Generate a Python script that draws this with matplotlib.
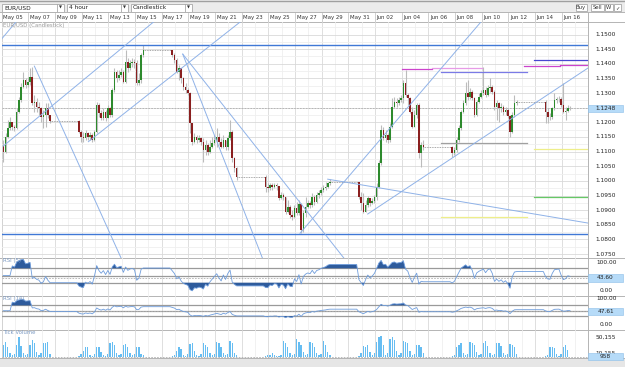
import numpy as np
import pandas as pd
import matplotlib
matplotlib.use('Agg')
import matplotlib.pyplot as plt
import matplotlib.transforms as mtransforms
from matplotlib.patches import Rectangle

plt.rcParams['font.family'] = ['DejaVu Sans']

# ---------------- data: EUR/USD 4 hour bars (New York time) ----------------
first_open = 1.1120
close = [
    # week of May 04
    1.1100, 1.1151, 1.1180, 1.1202, 1.1183, 1.1180, 1.1237, 1.1276, 1.1322, 1.1345, 1.1328,
    1.1339, 1.1356, 1.1265, 1.1271, 1.1254, 1.1248, 1.1219, 1.1225, 1.1248, 1.1225, 1.1205,
    # week of May 11
    1.1168, 1.1151, 1.1145, 1.1162, 1.1151, 1.1157, 1.1140, 1.1168, 1.1259, 1.1231,
    1.1214, 1.1237, 1.1214, 1.1248, 1.1225, 1.1310, 1.1373, 1.1350, 1.1362, 1.1373,
    1.1339, 1.1407, 1.1385, 1.1402, 1.1407, 1.1402, 1.1333, 1.1345, 1.1430, 1.1447,
    # week of May 18
    1.1430, 1.1413, 1.1373, 1.1385, 1.1350, 1.1322, 1.1310, 1.1299, 1.1197, 1.1134,
    1.1151, 1.1140, 1.1145, 1.1134, 1.1106, 1.1123, 1.1100, 1.1117, 1.1128, 1.1140,
    1.1151, 1.1134, 1.1117, 1.1140, 1.1117, 1.1145, 1.1168, 1.1077, 1.1043, 1.1015,
    # week of May 25
    1.0980, 1.0975, 1.0986, 1.0980, 1.0986, 1.0983, 1.0941, 1.0952, 1.0946, 1.0895,
    1.0912, 1.0884, 1.0878, 1.0906, 1.0889, 1.0921, 1.0832, 1.0889, 1.0912, 1.0923,
    1.0918, 1.0946, 1.0929, 1.0952, 1.0958, 1.0969, 1.0975, 1.0980, 1.0992, 1.0997,
    # week of Jun 01
    1.0946, 1.0923, 1.0895, 1.0918, 1.0941, 1.0923, 1.0933, 1.0946, 1.0980, 1.1060,
    1.1174, 1.1145, 1.1157, 1.1140, 1.1185, 1.1254, 1.1271, 1.1265, 1.1276, 1.1282,
    1.1333, 1.1293, 1.1282, 1.1237, 1.1185, 1.1225, 1.1259, 1.1094, 1.1123, 1.1115,
    # week of Jun 08
    1.1094, 1.1106, 1.1140, 1.1180, 1.1237, 1.1265, 1.1299, 1.1288, 1.1305, 1.1282,
    1.1225, 1.1271, 1.1288, 1.1299, 1.1310, 1.1293, 1.1316, 1.1322, 1.1305, 1.1254,
    1.1265, 1.1248, 1.1254, 1.1237, 1.1242, 1.1222, 1.1168, 1.1225, 1.1265, 1.1269,
    # week of Jun 15
    1.1237, 1.1219, 1.1217, 1.1248, 1.1276, 1.1279, 1.1281, 1.1259, 1.1237, 1.1240, 1.1250, 1.1248,
]
high = [
    1.1140, 1.1162, 1.1208, 1.1219, 1.1202, 1.1191, 1.1248, 1.1288, 1.1333, 1.1373, 1.1350,
    1.1356, 1.1385, 1.1390, 1.1293, 1.1282, 1.1271, 1.1254, 1.1242, 1.1265, 1.1265, 1.1225,
    1.1208, 1.1174, 1.1168, 1.1174, 1.1168, 1.1168, 1.1162, 1.1174, 1.1271, 1.1265,
    1.1242, 1.1248, 1.1242, 1.1259, 1.1254, 1.1316, 1.1385, 1.1379, 1.1379, 1.1385,
    1.1379, 1.1447, 1.1419, 1.1413, 1.1419, 1.1415, 1.1413, 1.1367, 1.1436, 1.1464,
    1.1447, 1.1436, 1.1419, 1.1396, 1.1385, 1.1356, 1.1333, 1.1316, 1.1305, 1.1197,
    1.1162, 1.1157, 1.1157, 1.1151, 1.1145, 1.1140, 1.1128, 1.1140, 1.1151, 1.1157,
    1.1180, 1.1162, 1.1145, 1.1157, 1.1140, 1.1157, 1.1208, 1.1174, 1.1083, 1.1049,
    1.1020, 1.0992, 1.0994, 1.0992, 1.0994, 1.0992, 1.0980, 1.0963, 1.0960, 1.0946,
    1.0935, 1.0918, 1.0901, 1.0918, 1.0929, 1.0935, 1.0923, 1.0901, 1.0946, 1.0935,
    1.0933, 1.0958, 1.0952, 1.0963, 1.0969, 1.0978, 1.0986, 1.0997, 1.0997, 1.1005,
    1.0997, 1.0963, 1.0958, 1.0935, 1.0949, 1.0941, 1.0941, 1.0952, 1.0992, 1.1071,
    1.1191, 1.1183, 1.1174, 1.1162, 1.1197, 1.1282, 1.1288, 1.1282, 1.1288, 1.1293,
    1.1345, 1.1379, 1.1299, 1.1288, 1.1254, 1.1242, 1.1265, 1.1265, 1.1134, 1.1140,
    1.1119, 1.1117, 1.1151, 1.1191, 1.1242, 1.1276, 1.1339, 1.1345, 1.1316, 1.1310,
    1.1288, 1.1276, 1.1299, 1.1310, 1.1390, 1.1322, 1.1328, 1.1350, 1.1328, 1.1310,
    1.1276, 1.1271, 1.1265, 1.1259, 1.1254, 1.1248, 1.1225, 1.1237, 1.1293, 1.1276,
    1.1276, 1.1248, 1.1231, 1.1254, 1.1299, 1.1288, 1.1290, 1.1288, 1.1333, 1.1254, 1.1259, 1.1256,
]
low = [
    1.1066, 1.1094, 1.1145, 1.1174, 1.1174, 1.1172, 1.1176, 1.1231, 1.1271, 1.1316, 1.1316,
    1.1322, 1.1328, 1.1259, 1.1237, 1.1237, 1.1225, 1.1202, 1.1180, 1.1185, 1.1214, 1.1197,
    1.1162, 1.1134, 1.1134, 1.1140, 1.1140, 1.1140, 1.1134, 1.1137, 1.1162, 1.1219,
    1.1208, 1.1208, 1.1206, 1.1214, 1.1217, 1.1219, 1.1305, 1.1339, 1.1345, 1.1356,
    1.1333, 1.1333, 1.1373, 1.1379, 1.1390, 1.1385, 1.1328, 1.1328, 1.1333, 1.1424,
    1.1424, 1.1402, 1.1367, 1.1345, 1.1333, 1.1310, 1.1299, 1.1293, 1.1162, 1.1123,
    1.1128, 1.1128, 1.1134, 1.1123, 1.1066, 1.1088, 1.1088, 1.1094, 1.1111, 1.1123,
    1.1117, 1.1123, 1.1111, 1.1111, 1.1106, 1.1106, 1.1140, 1.1066, 1.1032, 1.1003,
    1.0963, 1.0963, 1.0969, 1.0969, 1.0975, 1.0969, 1.0935, 1.0937, 1.0935, 1.0887,
    1.0889, 1.0872, 1.0867, 1.0872, 1.0884, 1.0884, 1.0821, 1.0827, 1.0878, 1.0906,
    1.0906, 1.0912, 1.0918, 1.0923, 1.0941, 1.0952, 1.0963, 1.0969, 1.0975, 1.0986,
    1.0937, 1.0901, 1.0889, 1.0906, 1.0912, 1.0916, 1.0921, 1.0926, 1.0935, 1.0975,
    1.1054, 1.1140, 1.1134, 1.1128, 1.1134, 1.1180, 1.1248, 1.1254, 1.1259, 1.1271,
    1.1265, 1.1288, 1.1259, 1.1231, 1.1180, 1.1208, 1.1214, 1.1077, 1.1049, 1.1106,
    1.1083, 1.1088, 1.1100, 1.1134, 1.1174, 1.1231, 1.1259, 1.1276, 1.1279, 1.1276,
    1.1219, 1.1222, 1.1265, 1.1282, 1.1293, 1.1288, 1.1290, 1.1305, 1.1297, 1.1242,
    1.1208, 1.1202, 1.1237, 1.1225, 1.1225, 1.1214, 1.1151, 1.1162, 1.1219, 1.1259,
    1.1197, 1.1197, 1.1208, 1.1210, 1.1242, 1.1265, 1.1271, 1.1254, 1.1231, 1.1208, 1.1237, 1.1242,
]
volume = [
    # week of May 04
    30000, 38000, 26000, 9000, 4000, 7000, 30000, 50000, 28000, 10000, 5000,
    8000, 31000, 43000, 35000, 12000, 4000, 9000, 34000, 36000, 38000, 8000,
    # week of May 11
    3000, 7000, 14000, 26000, 24000, 6000, 3000, 7000, 24000, 26000,
    12000, 6000, 3000, 7000, 34000, 38000, 30000, 10000, 4000, 8000,
    30000, 32000, 26000, 10000, 4000, 8000, 26000, 24000, 8000, 5000,
    # week of May 18
    2500, 6000, 14000, 26000, 20000, 6000, 3000, 8000, 32000, 36000,
    14000, 6000, 3000, 8000, 34000, 30000, 26000, 9000, 4000, 7000,
    38000, 36000, 26000, 11000, 5000, 8000, 40000, 34000, 9000, 4000,
    # week of May 25
    2000, 5000, 6000, 9000, 6000, 3000, 1500, 5000, 40000, 35000,
    26000, 10000, 4000, 7000, 44000, 38000, 30000, 12000, 5000, 8000,
    38000, 35000, 26000, 10000, 4000, 7000, 40000, 30000, 12000, 5000,
    # week of Jun 01
    3000, 9000, 28000, 26000, 30000, 12000, 5000, 9000, 38000, 50000,
    52000, 30000, 6000, 10000, 45000, 50000, 42000, 15000, 6000, 9000,
    40000, 38000, 34000, 14000, 5000, 8000, 30000, 30000, 26000, 10000,
    # week of Jun 08
    3000, 6000, 26000, 30000, 34000, 10000, 4000, 8000, 38000, 36000,
    30000, 12000, 5000, 8000, 34000, 40000, 28000, 10000, 4000, 7000,
    36000, 34000, 28000, 10000, 4000, 7000, 32000, 30000, 26000, 8000,
    # week of Jun 15
    3000, 6000, 24000, 26000, 22000, 8000, 3000, 7000, 26000, 30000, 18000, 958,
]
rsi5_last, rsi14_last = 43.60, 47.61
vol_labels = [50155, 10155]

date_labels = ['May 05', 'May 07', 'May 09', 'May 11', 'May 13', 'May 15', 'May 17', 'May 19',
               'May 21', 'May 23', 'May 25', 'May 27', 'May 29', 'May 31', 'Jun 02', 'Jun 04',
               'Jun 06', 'Jun 08', 'Jun 10', 'Jun 12', 'Jun 14', 'Jun 16']
price_ticks = [1.0750, 1.0800, 1.0850, 1.0900, 1.0950, 1.1000, 1.1050, 1.1100, 1.1150,
               1.1200, 1.1250, 1.1300, 1.1350, 1.1400, 1.1450, 1.1500]

# drawn objects, days after 2015-05-05 00:00 NY time
hline_prices = [1.1465, 1.0818]
seg_day0 = [30.02, 32.27, 39.17, 41.87, 32.95, 39.92, 32.95, 32.95, 39.92, 39.92]
seg_day1 = [32.27, 36.02, 41.87, 44.20, 39.40, 44.20, 39.40, 39.40, 44.20, 44.20]
seg_price = [1.1381, 1.1386, 1.1392, 1.1397, 1.1371, 1.1412, 1.1128, 1.0876, 1.1108, 1.0945]
trend_day0 = [0.12, -0.13, 6.50, 2.45, 13.58, 13.58, 22.37, 24.45, 27.45]
trend_p0 = [1.1119, 1.1478, 1.1134, 1.1392, 1.1433, 1.1433, 1.0821, 1.1006, 1.0887]
trend_day1 = [11.50, 1.07, 18.00, 9.02, 19.67, 25.90, 36.02, 44.12, 44.12]
trend_p1 = [1.1547, 1.1543, 1.1547, 1.0730, 1.0723, 1.0723, 1.1547, 1.0855, 1.1390]

# ---------------- bar times ----------------
times = pd.date_range('2015-05-05 01:00', '2015-06-16 13:00', freq='4h')
wd, hr = times.dayofweek, times.hour
closed = ((wd == 4) & (hr >= 17)) | (wd == 5) | ((wd == 6) & (hr < 17))
times = times[~closed]
t = ((times - pd.Timestamp('2015-05-05')) / pd.Timedelta(days=1)).to_numpy() + 2 / 24

c = np.array(close)
o = np.concatenate([[first_open], c[:-1]])
hi = np.maximum(np.array(high), np.maximum(o, c))
lo = np.minimum(np.array(low), np.minimum(o, c))
vol = np.array(volume)


def rsi(series, n):
    d = np.diff(series, prepend=series[0])
    up = pd.Series(np.clip(d, 0, None)).ewm(alpha=1 / n, adjust=False).mean()
    dn = pd.Series(np.clip(-d, 0, None)).ewm(alpha=1 / n, adjust=False).mean()
    return (100 - 100 / (1 + up / dn.replace(0, np.nan))).fillna(50).to_numpy()


rsi5 = rsi(c, 5)
rsi14 = rsi(c, 14)

# ---------------- layout (pixels) ----------------
W, H = 625, 367
fig = plt.figure(figsize=(W / 100, H / 100), dpi=100)
fig.patch.set_facecolor('white')
XL = ((2 - 1.7) / 13.333, (588 - 1.7) / 13.333)


def px_axes(x0, y0, x1, y1):
    return fig.add_axes([x0 / W, 1 - y1 / H, (x1 - x0) / W, (y1 - y0) / H])


ui = fig.add_axes([0, 0, 1, 1])
ui.set_xlim(0, W)
ui.set_ylim(H, 0)
ui.axis('off')

# toolbar
ui.add_patch(Rectangle((0, 0), W, 12, fc='#ececec', ec='none'))
ui.plot([0, W], [0.5, 0.5], color='#a0a0a0', lw=1)
for x0, x1, lab in [(2, 64, 'EUR/USD'), (67, 128, '4 hour'), (131, 192, 'Candlestick')]:
    ui.add_patch(Rectangle((x0, 3.5), x1 - x0, 8, fc='white', ec='#a8a8a8', lw=0.6))
    ui.plot([x1 - 7, x1 - 7], [3.5, 11.5], color='#a8a8a8', lw=0.6)
    ui.text(x0 + 2, 7.6, lab, fontsize=4.2, va='center', color='#222222')
    ui.text(x1 - 3.5, 7.8, '\u25bc', fontsize=2.8, ha='center', va='center', color='#333333')
for x0, w, lab in [(575.5, 11, 'Buy'), (590.5, 13, 'Sell'), (605, 7.5, 'W'), (613.5, 7.5, '\u2713')]:
    ui.add_patch(Rectangle((x0, 3.5), w, 7.5, fc='white', ec='#a8a8a8', lw=0.6))
    ui.text(x0 + w / 2, 7.4, lab, fontsize=3.8, ha='center', va='center', color='#333333')

# right column and bottom strip
ui.add_patch(Rectangle((588, 12), 37, 346, fc='white', ec='none'))
ui.add_patch(Rectangle((0, 358), W, 9, fc='#e6e6e6', ec='none'))
for y in [12, 22, 258, 296, 330, 358]:
    ui.plot([0, W], [y, y], color='#b4b4b4', lw=0.7)
ui.plot([588, 588], [12, 358], color='#b4b4b4', lw=0.7)
ui.plot([1.5, 1.5], [12, 358], color='#b4b4b4', lw=0.7)

# fixed scale labels of the indicator panels (right column)
for y, s in [(263, '100.00'), (291, '0.00'), (298.5, '100.00'), (325, '0.00')]:
    ui.text(606.5, y, s, fontsize=4.2, ha='center', va='center', color='#222222')

# date header
hdr = px_axes(2, 12.5, 588, 21.5)
hdr.set_xlim(XL)
hdr.set_ylim(0, 1)
hdr.axis('off')
for i, lab in enumerate(date_labels):
    hdr.axvline(2 * i, color='#c8c8c8', lw=0.6)
    hdr.text(2 * i + 0.12, 0.45, lab, fontsize=3.9, va='center', color='#333333')

tr_kw = dict(fontsize=4.2, ha='center', va='center', color='#222222', clip_on=False)


def right_label(ax, v, s):
    tr = mtransforms.blended_transform_factory(ax.transAxes, ax.transData)
    w = 36 / (ax.get_position().width * W)
    ax.text(1 + w / 2, v, s, transform=tr, zorder=10, **tr_kw)


def right_tag(ax, v, s, h_px=7.5):
    y0, y1 = ax.get_ylim()
    dh = h_px * (y1 - y0) / (ax.get_position().height * H)
    w = 35 / (ax.get_position().width * W)
    tr = mtransforms.blended_transform_factory(ax.transAxes, ax.transData)
    ax.add_patch(Rectangle((1.0, v - dh / 2), w, dh, transform=tr, fc='#b6dbf8',
                           ec='#8cbfe9', lw=0.4, clip_on=False, zorder=20))
    ax.text(1 + w / 2, v, s, transform=tr, zorder=21, **tr_kw)
    ax.axhline(v, color='#b0b0b0', lw=0.6, ls=(0, (2, 1.5)), zorder=1)


def time_grid(ax):
    for d in range(0, 45):
        ax.axvline(d, color='#d9d9d9' if d % 2 == 0 else '#efefef', lw=0.6, zorder=0)


# ---------------- main price panel ----------------
ax = px_axes(2, 22, 588, 258)
ax.set_xlim(XL)
ax.set_ylim(1.07368, 1.15427)
ax.axis('off')
time_grid(ax)
for p in price_ticks:
    ax.axhline(p, color='#d9d9d9', lw=0.6, zorder=0)
    ax.axhline(p + 0.0025, color='#efefef', lw=0.6, zorder=0)
    right_label(ax, p, '%.4f' % p)

up = c >= o
ax.vlines(t, lo, hi, color='#bcbcbc', lw=0.8, zorder=3)
body = np.where(np.abs(c - o) < 0.00008, 0.00008, c - o)
ax.bar(t, body, bottom=o, width=0.12, color=np.where(up, '#2d8a2d', '#8a1f1f'),
       lw=0, zorder=4)

gaps = np.where(np.diff(t) > 0.2)[0]
for g in gaps:
    ax.plot([t[g], t[g + 1]], [c[g], c[g]], color='#8c8c8c', lw=0.6, ls=(0, (1, 1)), zorder=3)

for p in hline_prices:
    ax.axhline(p, color='#3f78d6', lw=1.0, zorder=5)
seg_colors = ['#cc44cc', '#e79be7', '#cc44cc', '#cc44cc', '#7a7ae6', '#4848d0',
              '#a0a0a0', '#eeee8a', '#eeee8a', '#66c866']
for a, b, p, col in zip(seg_day0, seg_day1, seg_price, seg_colors):
    ax.plot([a, b], [p, p], color=col, lw=0.9, zorder=5)
for a, pa, b, pb in zip(trend_day0, trend_p0, trend_day1, trend_p1):
    ax.plot([a, b], [pa, pb], color='#8fb2e8', lw=0.7, zorder=5)

right_tag(ax, c[-1], '%.4f' % c[-1])
ax.text(0.1, 1.1538, 'EUR/USD (Candlestick)', fontsize=3.9, color='#9a9a9a', va='top', zorder=8)

# ---------------- RSI panels ----------------
tx = np.insert(t, gaps + 1, t[gaps + 1] - 1 / 6)


def rsi_panel(y0, y1, ylim, series, last, name):
    r = px_axes(2, y0, 588, y1)
    r.set_xlim(XL)
    r.set_ylim(ylim)
    r.axis('off')
    time_grid(r)
    for lv in (70, 50, 30):
        r.axhline(lv, color='#9a9a9a', lw=0.9, zorder=1)
    rv = np.insert(series, gaps + 1, series[gaps])
    r.fill_between(tx, rv, 70, where=rv > 70, interpolate=True, color='#2e5b9c', lw=0, zorder=2)
    r.fill_between(tx, rv, 30, where=rv < 30, interpolate=True, color='#2e5b9c', lw=0, zorder=2)
    r.plot(tx, rv, color='#6f9ddc', lw=0.6, zorder=3)
    right_tag(r, last, '%.2f' % last)
    r.text(0.1, 1, name, transform=mtransforms.blended_transform_factory(r.transData, r.transAxes),
           fontsize=3.9, color='#7d9bc4', va='top')
    return r


rsi_panel(258, 296, (-6.9, 98.6), rsi5, rsi5_last, 'RSI (5)')
rsi_panel(296, 330, (-22, 105), rsi14, rsi14_last, 'RSI (14)')

# ---------------- tick volume ----------------
v = px_axes(2, 330, 588, 358)
v.set_xlim(XL)
v.set_ylim(-2500, 67500)
v.axis('off')
time_grid(v)
v.bar(t, vol, width=0.1, color='#66bdf2', lw=0, zorder=3)
for val in vol_labels:
    right_label(v, val, '{:,}'.format(val))
right_tag(v, vol[-1], '{:,}'.format(vol[-1]))
v.text(0.1, 1, 'Tick Volume', transform=mtransforms.blended_transform_factory(v.transData, v.transAxes),
       fontsize=3.9, color='#7d9bc4', va='top')

fig.savefig('out.png', dpi=100)
